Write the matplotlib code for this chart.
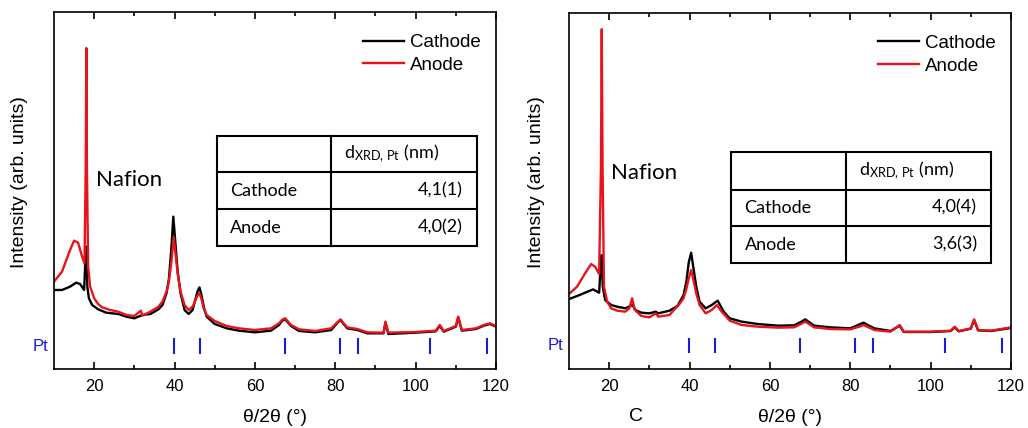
import matplotlib
matplotlib.use("Agg")
import matplotlib.pyplot as plt
from matplotlib.patches import Rectangle

plt.rcParams['font.family'] = ['Liberation Sans', 'DejaVu Sans']
plt.rcParams['mathtext.fontset'] = 'custom'
plt.rcParams['mathtext.rm'] = 'Lato'
plt.rcParams['mathtext.it'] = 'Lato:italic'

# ---- XRD patterns, left sample ----
left_x_anode = [10, 12, 14, 15, 16, 17, 17.6, 17.9, 18.05, 18.2, 18.5, 19, 20, 21, 22, 24, 26, 28, 30,
                31.6, 32, 34, 36, 37, 38, 38.6, 39.2, 39.8, 40.3, 40.8, 41.5, 42.5, 43.5, 44.5, 45,
                45.7, 46.2, 46.7, 47.3, 48,
                50, 53, 56, 60, 64, 66, 66.8, 67.5, 68.2, 69, 71, 75, 79, 80.5, 81.3, 82, 83, 85.5, 88,
                92, 92.5, 93.2, 100, 105, 106, 107, 110, 110.6, 111.5, 115, 117, 118.5, 120]
left_y_anode = [262, 292, 357, 385, 379, 337, 317, 607, 963, 607, 307, 247, 212, 195, 185, 177, 172, 162, 159,
                175, 160, 172, 187, 202, 232, 262, 320, 395, 340, 285, 232, 192, 177, 187, 200,
                220, 227, 210, 180, 162,
                144, 129, 122, 117, 122, 137, 148, 152, 143, 132, 119, 114, 122, 140, 149, 138, 125, 120, 110,
                109, 142, 109, 111, 115, 132, 114, 129, 157, 117, 122, 132, 137, 129]

left_x_cathode = [10, 12, 14, 15.5, 16.5, 17.5, 17.9, 18.05, 18.3, 18.7, 19.5, 21, 23, 26, 28, 30, 32, 34,
                  36, 37, 38, 38.6, 39.2, 39.7, 40.2, 40.8, 41.5, 42.5, 43.5, 44.5, 45, 45.7, 46.2, 46.7,
                  47.3, 48, 50, 53, 56, 60,
                  64, 66, 66.8, 67.5, 68.2, 69, 71, 75, 79, 80.5, 81.3, 82, 83, 85.5, 88, 92, 92.5, 93.2,
                  100, 105, 106, 107, 110, 110.6, 111.5, 115, 117, 118.5, 120]
left_y_cathode = [237, 237, 247, 259, 255, 237, 347, 367, 247, 212, 192, 179, 169, 165, 157, 152, 162, 165,
                  179, 192, 227, 270, 360, 457, 380, 290, 227, 177, 165, 177, 200, 232, 245, 222,
                  185, 157, 135, 122, 115, 110,
                  115, 132, 145, 149, 140, 129, 114, 110, 117, 138, 147, 136, 122, 117, 107, 107, 139, 105,
                  109, 113, 129, 112, 127, 155, 115, 120, 130, 135, 127]

# ---- XRD patterns, right sample ----
right_x_anode = [10, 12, 14, 15.5, 16.5, 17.5, 17.95, 18.15, 18.35, 18.7, 19.5, 20.5, 22, 24, 25, 25.7, 26.4,
                 28, 30, 31.6, 32.2, 35, 36.5, 37.3, 38.5, 39.2, 39.8, 40.4, 41, 41.7, 42.5, 44, 45.5,
                 46.8, 48, 50, 53, 57, 62, 66, 68, 68.8, 69.6, 71, 75, 80, 82.5, 83.3, 84.2, 86, 90,
                 92.3, 93.3, 100, 105, 106, 107, 110, 110.8, 111.8, 115, 120]
right_y_anode = [225, 247, 287, 315, 307, 285, 607, 1020, 607, 247, 202, 182, 175, 172, 182, 212, 177,
                 159, 155, 167, 157, 162, 182, 192, 212, 240, 272, 297, 265, 225, 192, 167, 177,
                 192, 172, 145, 132, 127, 124, 125, 137, 142, 136, 125, 120, 119, 128, 132, 127, 117, 112,
                 132, 112, 112, 115, 127, 114, 122, 149, 117, 115, 125]

right_x_cathode = [10, 12, 14, 16, 17.5, 17.95, 18.15, 18.4, 19, 20.5, 22, 24, 25.8, 26.5, 28, 30, 31.6,
                   32.2, 35, 37, 38.5, 39.2, 39.8, 40.4, 41, 41.7, 42.5, 44, 45.5, 47, 48.5, 50, 53, 57,
                   62, 66, 68, 68.8, 69.6, 71, 75, 80, 82.5, 83.3, 84.2, 86, 90, 92.3, 93.3, 100, 105,
                   106, 107, 110, 110.8, 111.8, 115, 120]
right_y_cathode = [210, 219, 229, 239, 229, 327, 342, 247, 207, 192, 187, 182, 192, 177, 169, 167, 172,
                   167, 175, 189, 222, 262, 320, 349, 300, 245, 202, 182, 192, 205, 172, 152, 142, 135,
                   130, 131, 143, 149, 142, 130, 125, 122, 135, 139, 133, 122, 114, 130, 111, 111, 114,
                   125, 113, 121, 147, 116, 114, 123]

# Pt reference reflections
pt_positions = [39.76, 46.24, 67.45, 81.28, 85.71, 103.5, 117.7]

# Crystallite size tables
table_rows = ["Cathode", "Anode"]
left_sizes = ["4,1(1)", "4,0(2)"]
right_sizes = ["4,0(4)", "3,6(3)"]

panels = [
    dict(rect=[0.0525, 0.1379, 0.43, 0.834], ylim=(0, 1071),
         xa=left_x_anode, ya=left_y_anode, xc=left_x_cathode, yc=left_y_cathode,
         sizes=left_sizes, tab=(0.368, 0.626, 0.956, [0.653, 0.551, 0.447, 0.345]),
         pt_band=(45, 92), pt_y=67, nafion_y=567, ylab_x=-0.058),
    dict(rect=[0.5535, 0.1379, 0.43, 0.832], ylim=(0, 1069),
         xa=right_x_anode, ya=right_y_anode, xc=right_x_cathode, yc=right_y_cathode,
         sizes=right_sizes, tab=(0.367, 0.626, 0.955, [0.608, 0.504, 0.401, 0.298]),
         pt_band=(49, 94), pt_y=70, nafion_y=587, ylab_x=-0.054),
]

fig = plt.figure(figsize=(10.28, 4.28), dpi=100)
table_font = ['Lato', 'DejaVu Sans']

for p in panels:
    ax = fig.add_axes(p['rect'])
    ax.plot(p['xc'], p['yc'], color='black', lw=1.7, label='Cathode')
    ax.plot(p['xa'], p['ya'], color='#e8141b', lw=1.7, label='Anode')
    ax.vlines(pt_positions, p['pt_band'][0], p['pt_band'][1], color='#1a1adc', lw=1.5)
    ax.text(-0.012, p['pt_y'], 'Pt', color='#1a1adc', fontsize=12,
            ha='right', va='center', transform=ax.get_yaxis_transform())

    ax.set_xlim(10, 120)
    ax.set_ylim(*p['ylim'])
    ax.set_xticks([20, 40, 60, 80, 100, 120])
    ax.set_xticks([30, 50, 70, 90, 110], minor=True)
    ax.set_yticks([])
    ax.tick_params(axis='x', which='both', direction='in', top=True, labelsize=12, pad=7, width=1.2)
    ax.tick_params(axis='x', which='major', length=5)
    ax.tick_params(axis='x', which='minor', length=3)
    for s in ax.spines.values():
        s.set_linewidth(1.2)

    ax.set_xlabel('θ/2θ (°)', fontsize=14)
    ax.xaxis.set_label_coords(0.5, -0.112)
    ax.set_ylabel('Intensity (arb. units)', fontsize=14)
    ax.yaxis.set_label_coords(p['ylab_x'], 0.524)

    ax.text(20.4, p['nafion_y'], 'Nafion', fontsize=16, family=table_font, va='center', ha='left')

    ax.legend(loc='upper right', bbox_to_anchor=(0.99, 0.97), frameon=False, fontsize=13.5,
              handlelength=2.2, handletextpad=0.3, labelspacing=0.3, borderaxespad=0.2)

    # size table
    x0, xm, x1, ys = p['tab']
    tr = ax.transAxes
    ax.add_patch(Rectangle((x0, ys[3]), x1 - x0, ys[0] - ys[3], transform=tr,
                           fill=False, edgecolor='black', lw=1.5, zorder=5))
    for yy in ys[1:3]:
        ax.plot([x0, x1], [yy, yy], color='black', lw=1.5, transform=tr, zorder=5)
    ax.plot([xm, xm], [ys[3], ys[0]], color='black', lw=1.5, transform=tr, zorder=5)
    ax.text(xm + 0.03, (ys[0] + ys[1]) / 2, r'd$_{\mathrm{XRD,\,Pt}}$ (nm)', transform=tr,
            fontsize=13, family=table_font, va='center', ha='left')
    for i, (name, val) in enumerate(zip(table_rows, p['sizes'])):
        yc = (ys[i + 1] + ys[i + 2]) / 2
        ax.text(x0 + 0.03, yc, name, transform=tr, fontsize=13, family=table_font,
                va='center', ha='left')
        ax.text(x1 - 0.032, yc, val, transform=tr, fontsize=13, family=table_font,
                va='center', ha='right')

fig.text(0.619, 0.026, 'C', fontsize=14, ha='center', va='center')

fig.savefig('out.png', dpi=100)
